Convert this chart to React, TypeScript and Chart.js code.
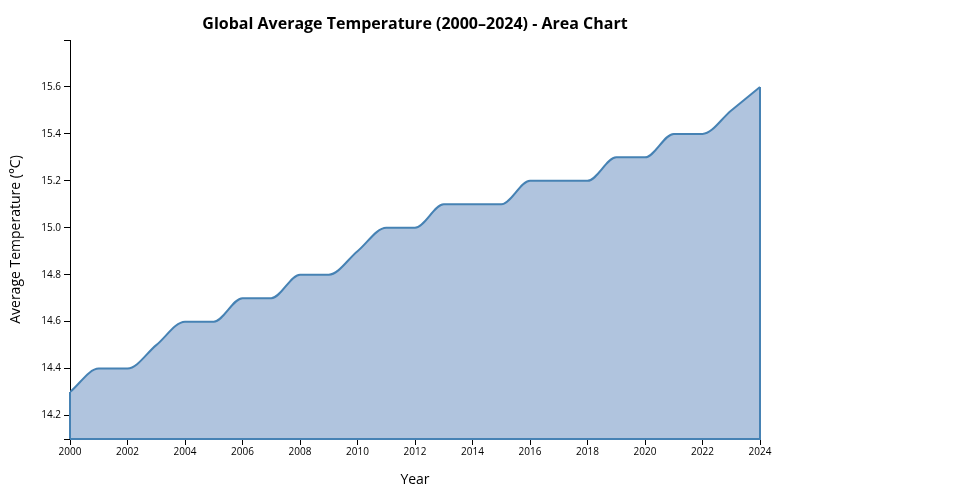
import React, { useEffect, useRef } from "react";
import { Chart, registerables } from "chart.js";

Chart.register(...registerables);

const years = [2000, 2001, 2002, 2003, 2004, 2005, 2006, 2007, 2008, 2009, 2010, 2011, 2012, 2013, 2014, 2015, 2016, 2017, 2018, 2019, 2020, 2021, 2022, 2023, 2024];
const temps = [14.3, 14.4, 14.4, 14.5, 14.6, 14.6, 14.7, 14.7, 14.8, 14.8, 14.9, 15.0, 15.0, 15.1, 15.1, 15.1, 15.2, 15.2, 15.2, 15.3, 15.3, 15.4, 15.4, 15.5, 15.6];
const yTicks = [14.2, 14.4, 14.6, 14.8, 15.0, 15.2, 15.4, 15.6];
const yMin = 14.1;
const yMax = 15.8;
const xTicks = [2000, 2002, 2004, 2006, 2008, 2010, 2012, 2014, 2016, 2018, 2020, 2022, 2024];

const TITLE = "Global Average Temperature (2000–2024) - Area Chart";
const FONT = "'Open Sans', sans-serif";
const STROKE = "#4682b4";
const FILL = "#b0c4de";

const edgePlugin = {
  id: "edges",
  afterDatasetsDraw(chart: any) {
    const { ctx, scales } = chart;
    const x = scales.x, y = scales.y;
    const x0 = x.getPixelForValue(years[0]);
    const x1 = x.getPixelForValue(years[years.length - 1]);
    const yb = y.getPixelForValue(yMin);
    ctx.save();
    ctx.strokeStyle = STROKE;
    ctx.lineWidth = 2;
    ctx.beginPath();
    ctx.moveTo(x1, y.getPixelForValue(temps[temps.length - 1]));
    ctx.lineTo(x1, yb);
    ctx.lineTo(x0, yb);
    ctx.lineTo(x0, y.getPixelForValue(temps[0]));
    ctx.stroke();
    ctx.restore();
  },
  afterDraw(chart: any) {
    const { ctx, chartArea } = chart;
    ctx.save();
    // outer ticks of the axis domains
    ctx.strokeStyle = "#000";
    ctx.lineWidth = 1;
    ctx.beginPath();
    ctx.moveTo(chartArea.left - 6, chartArea.top + 0.5);
    ctx.lineTo(chartArea.left, chartArea.top + 0.5);
    ctx.moveTo(chartArea.left - 6, chartArea.bottom + 0.5);
    ctx.lineTo(chartArea.left, chartArea.bottom + 0.5);
    ctx.stroke();
    // title
    ctx.fillStyle = "#000";
    ctx.font = `bold 16px ${FONT}`;
    ctx.textAlign = "center";
    ctx.textBaseline = "middle";
    ctx.fillText(TITLE, (chartArea.left + chartArea.right) / 2, 24);
    ctx.restore();
  },
};

export default function App() {
  const ref = useRef<HTMLCanvasElement>(null);
  useEffect(() => {
    if (!ref.current) return;
    const chart = new Chart(ref.current, {
      type: "line",
      data: {
        datasets: [
          {
            data: years.map((yr, i) => ({ x: yr, y: temps[i] })),
            borderColor: STROKE,
            backgroundColor: FILL,
            borderWidth: 2,
            fill: "start",
            pointRadius: 0,
            cubicInterpolationMode: "monotone",
          },
        ],
      },
      options: {
        animation: false,
        responsive: false,
        layout: { padding: { top: 40, right: 200, left: 0, bottom: 0 } },
        plugins: { legend: { display: false }, tooltip: { enabled: false }, title: { display: false } },
        scales: {
          x: {
            type: "linear",
            min: 2000,
            max: 2024,
            z: 1,
            afterFit(scale: any) { scale.height = 61; },
            afterBuildTicks(scale: any) { scale.ticks = xTicks.map((v) => ({ value: v })); },
            grid: { drawOnChartArea: false, drawTicks: true, tickLength: 6, color: "#000", tickWidth: 1 },
            border: { display: true, color: "#000", width: 1 },
            ticks: {
              color: "#000",
              font: { family: FONT, size: 10 },
              padding: 1,
              maxRotation: 0,
              autoSkip: false,
              callback: (v: any) => String(v),
            },
            title: { display: true, text: "Year", color: "#000", font: { family: FONT, size: 14 }, padding: { top: 0, bottom: 11.6 } },
          },
          y: {
            type: "linear",
            min: yMin,
            max: yMax,
            z: 1,
            afterFit(scale: any) { scale.width = 70; },
            afterBuildTicks(scale: any) { scale.ticks = yTicks.map((v) => ({ value: v })); },
            grid: { drawOnChartArea: false, drawTicks: true, tickLength: 6, color: "#000", tickWidth: 1 },
            border: { display: true, color: "#000", width: 1 },
            ticks: {
              color: "#000",
              font: { family: FONT, size: 10 },
              padding: 3,
              callback: (v: any) => Number(v).toFixed(1),
            },
            title: { display: true, text: "Average Temperature (°C)", color: "#000", font: { family: FONT, size: 14 }, padding: { top: 7.6, bottom: 0 } },
          },
        },
      },
      plugins: [edgePlugin],
    } as any);
    return () => chart.destroy();
  }, []);
  return (
    <div style={{ position: "absolute", left: 0, top: 0, width: 960, height: 500, background: "#fff" }}>
      <canvas ref={ref} width={960} height={500} style={{ width: 960, height: 500 }} />
    </div>
  );
}
